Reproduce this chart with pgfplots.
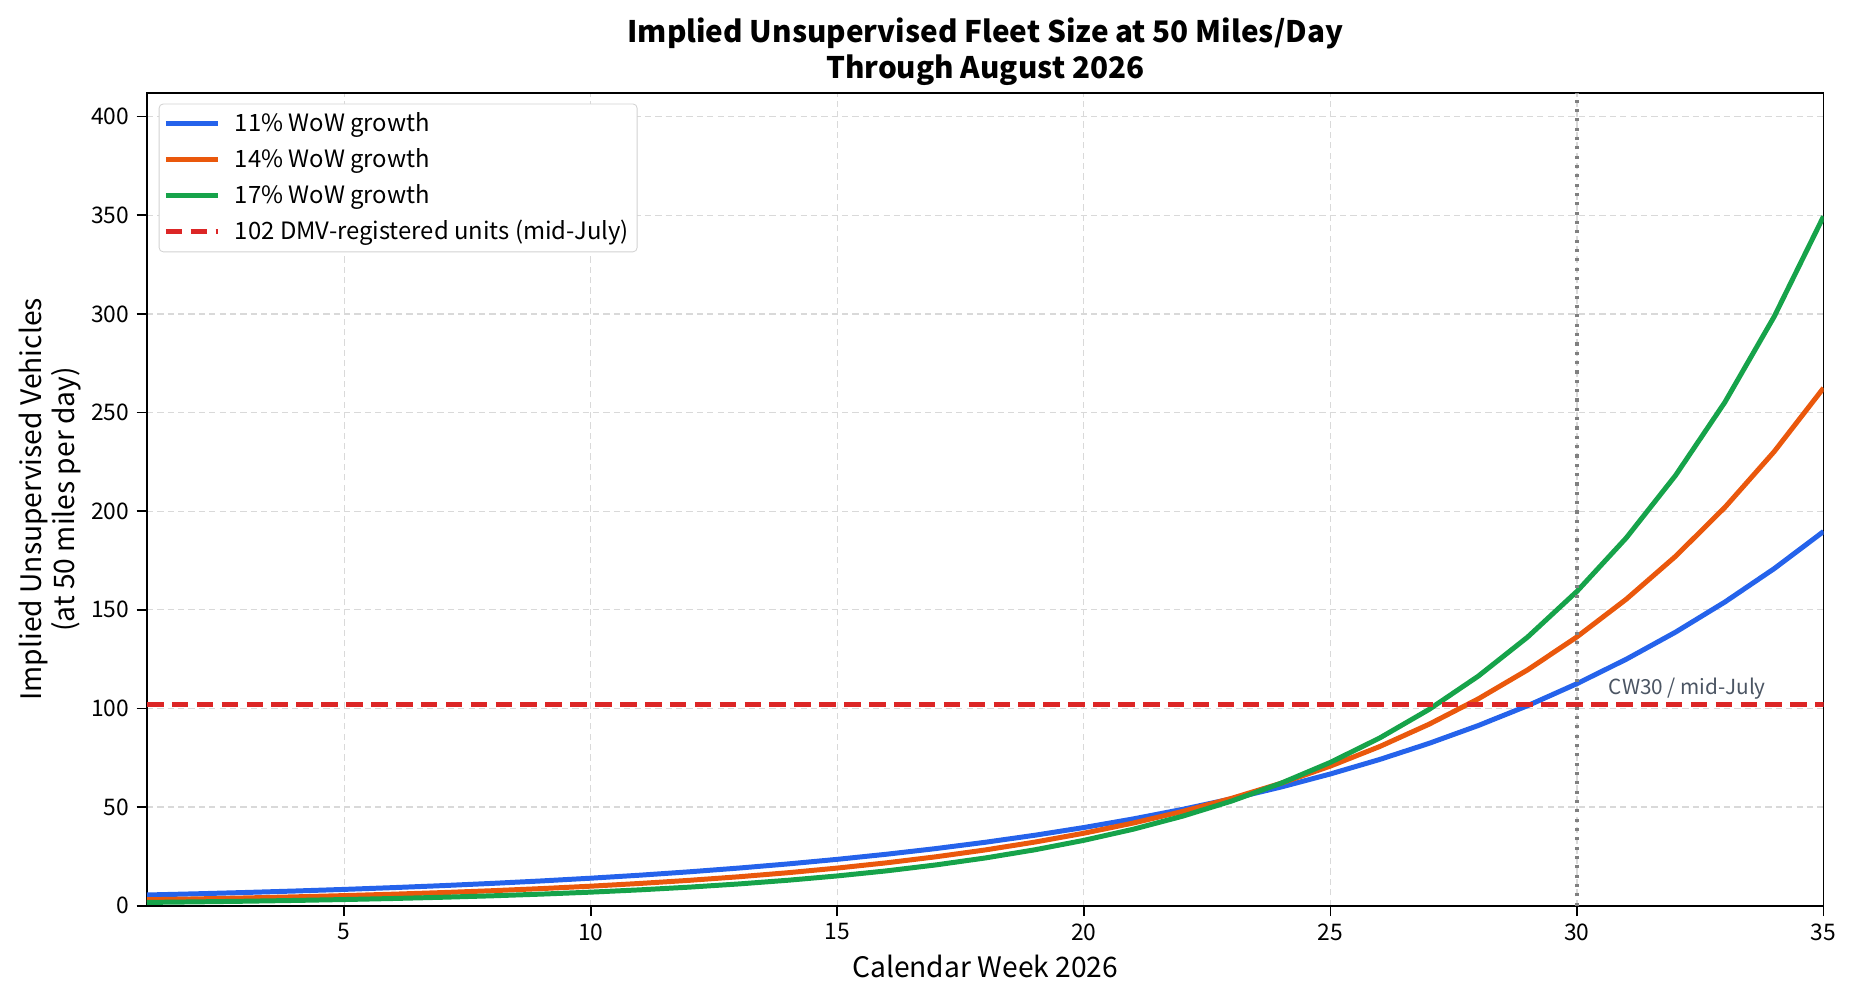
\documentclass[border=0pt]{standalone}
\usepackage{pgfplots}
\pgfplotsset{compat=1.18}
\usepackage{fontspec}
\setmainfont{Noto Sans CJK JP}

\definecolor{cblue}{HTML}{2563EB}
\definecolor{corange}{HTML}{EA580C}
\definecolor{cgreen}{HTML}{16A34A}
\definecolor{cred}{HTML}{DC2626}
\definecolor{cnote}{HTML}{4B5563}
\definecolor{cvline}{HTML}{808080}

\begin{document}
\begin{tikzpicture}
\path[use as bounding box] (-0.98in,-0.64in) rectangle (11.39in,6.04in);
\begin{axis}[
  at={(0,0)}, anchor=south west,
  scale only axis,
  width=11.18in, height=5.42in,
  xmin=1, xmax=35, ymin=0, ymax=412,
  xtick={5,10,15,20,25,30,35},
  ytick={0,50,100,150,200,250,300,350,400},
  tick align=outside,
  tick pos=left,
  major tick length=5pt,
  every tick/.style={black, line width=0.8pt},
  axis line style={line width=0.8pt},
  /pgf/number format/assume math mode=true,
  tick label style={font=\fontsize{11}{13}\selectfont},
  grid=major,
  major grid style={gray!30, dash pattern=on 3pt off 2pt, line width=0.6pt},
  xlabel={Calendar Week 2026},
  ylabel={Implied Unsupervised Vehicles\\(at 50 miles per day)},
  xlabel style={font=\fontsize{13.6}{16}\selectfont},
  ylabel style={font=\fontsize{13.6}{16}\selectfont, align=center, yshift=-2pt},
  title={Implied Unsupervised Fleet Size at 50 Miles/Day\\Through August 2026},
  title style={font=\bfseries\fontsize{14.3}{17.6}\selectfont, align=center, yshift=-6pt},
  legend cell align=left,
  legend style={font=\fontsize{11.5}{14}\selectfont, draw=gray!35, rounded corners=2pt,
    at={(0.007,0.987)}, anchor=north west, inner xsep=2pt, inner ysep=1pt,
    nodes={inner ysep=3.3pt}},
  % line sample plus a little empty room before the entry text
  legend image code/.code={\draw[#1] (0cm,0cm) -- (0.88cm,0cm); \path (1.06cm,0cm);},
]
\addplot[cblue, line width=2.4pt] coordinates {
(1,5.46) (2,6.06) (3,6.73) (4,7.47) (5,8.29) (6,9.20) (7,10.21) (8,11.34) (9,12.58) (10,13.97)
(11,15.50) (12,17.21) (13,19.10) (14,21.20) (15,23.53) (16,26.12) (17,28.99) (18,32.18) (19,35.72) (20,39.65)
(21,44.01) (22,48.85) (23,54.23) (24,60.19) (25,66.81) (26,74.16) (27,82.32) (28,91.37) (29,101.42) (30,112.58)
(31,124.96) (32,138.71) (33,153.97) (34,170.90) (35,189.70)};
\addlegendentry{11\% WoW growth}
\addplot[corange, line width=2.4pt] coordinates {
(1,3.05) (2,3.48) (3,3.96) (4,4.52) (5,5.15) (6,5.87) (7,6.69) (8,7.63) (9,8.70) (10,9.92)
(11,11.31) (12,12.89) (13,14.69) (14,16.75) (15,19.10) (16,21.77) (17,24.82) (18,28.29) (19,32.25) (20,36.77)
(21,41.92) (22,47.79) (23,54.48) (24,62.10) (25,70.80) (26,80.71) (27,92.01) (28,104.89) (29,119.57) (30,136.31)
(31,155.39) (32,177.15) (33,201.95) (34,230.22) (35,262.45)};
\addlegendentry{14\% WoW growth}
\addplot[cgreen, line width=2.4pt] coordinates {
(1,1.68) (2,1.97) (3,2.30) (4,2.69) (5,3.15) (6,3.68) (7,4.31) (8,5.04) (9,5.90) (10,6.90)
(11,8.07) (12,9.44) (13,11.05) (14,12.93) (15,15.12) (16,17.69) (17,20.70) (18,24.22) (19,28.34) (20,33.16)
(21,38.79) (22,45.39) (23,53.10) (24,62.13) (25,72.69) (26,85.05) (27,99.51) (28,116.42) (29,136.22) (30,159.37)
(31,186.47) (32,218.17) (33,255.26) (34,298.65) (35,349.42)};
\addlegendentry{17\% WoW growth}
\addplot[cred, line width=2.1pt, dash pattern=on 8pt off 4pt] coordinates {(1,102) (35,102)};
\addlegendentry{102 DMV-registered units (mid-July)}
\addplot[cvline, line width=1.5pt, dash pattern=on 1.5pt off 3pt, forget plot] coordinates {(30,0) (30,412)};
\node[anchor=base west, text=cnote, font=\fontsize{10}{12}\selectfont] at (axis cs:30.5,107) {CW30 / mid-July};
\end{axis}
\end{tikzpicture}
\end{document}
